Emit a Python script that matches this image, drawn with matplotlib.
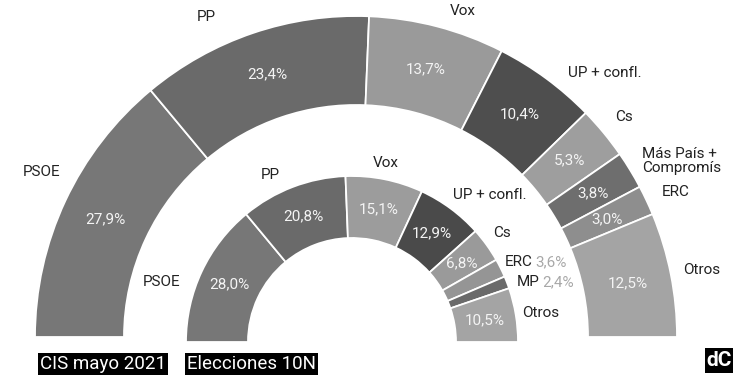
import numpy as np
import matplotlib
matplotlib.use('Agg')
import matplotlib.pyplot as plt
from matplotlib.patches import Wedge, Rectangle

plt.rcParams['font.family'] = ['Roboto', 'DejaVu Sans']

# CIS mayo 2021 (outer ring)
outer_parties = ['PSOE', 'PP', 'Vox', 'UP + confl.', 'Cs', 'Más País +\nCompromís', 'ERC', 'Otros']
outer_values = [27.9, 23.4, 13.7, 10.4, 5.3, 3.8, 3.0, 12.5]
outer_colors = ['#777777', '#6a6a6a', '#9a9a9a', '#4e4e4e', '#9e9e9e', '#6e6e6e', '#8e8e8e', '#a4a4a4']

# Elecciones 10N (inner ring)
inner_parties = ['PSOE', 'PP', 'Vox', 'UP + confl.', 'Cs', 'ERC', 'MP', 'Otros']
inner_values = [28.0, 20.8, 15.1, 12.9, 6.8, 3.6, 2.4, 10.5]
inner_colors = ['#777777', '#6a6a6a', '#9c9c9c', '#4a4a4a', '#9a9a9a', '#959595', '#6a6a6a', '#a4a4a4']

# party name positions (pixels from top-left) and alignment
outer_name_pos = [(42, 172, 'center'), (206, 17, 'center'), (463, 11, 'center'),
                  (568, 73, 'left'), (615, 117, 'left'), (642, 161, 'left'),
                  (662, 192, 'left'), (683, 270, 'left')]
inner_name_pos = [(162, 282, 'center'), (270, 175, 'center'), (386, 163, 'center'),
                  (453, 195, 'left'), (493, 233, 'left'), (505, 262, 'left'),
                  (517, 282, 'left'), (522, 313, 'left')]
# inner slices too thin for an inside label get the value next to the name
inner_value_outside = [False, False, False, False, False, True, True, False]

H = 375
FS = 11


def fmt(v):
    return f'{v:.1f}%'.replace('.', ',')


def draw_ring(ax, values, colors, cx, cy, r_out, r_in):
    total = sum(values)
    start = 180.0
    mids = []
    for v, c in zip(values, colors):
        span = v / total * 180.0
        ax.add_patch(Wedge((cx, H - cy), r_out, start - span, start, width=r_out - r_in,
                           facecolor=c, edgecolor='white', linewidth=1.3))
        mids.append(start - span / 2)
        start -= span
    return mids


def put_values(ax, values, mids, cx, cy, r, skip=None):
    for i, (v, a) in enumerate(zip(values, mids)):
        if skip and skip[i]:
            continue
        x = cx + r * np.cos(np.radians(a))
        y = H - cy + r * np.sin(np.radians(a))
        ax.text(x, y, fmt(v), color='#f4f4f4', fontsize=FS, ha='center', va='center')


fig = plt.figure(figsize=(7.5, 3.75), dpi=100)
ax = fig.add_axes([0, 0, 1, 1])
ax.set_xlim(0, 750)
ax.set_ylim(0, H)
ax.axis('off')

# outer ring
o_mid = draw_ring(ax, outer_values, outer_colors, 356, 337, 321, 232)
put_values(ax, outer_values, o_mid, 356, 337, 277)
for name, (x, y, ha) in zip(outer_parties, outer_name_pos):
    ax.text(x, H - y, name, fontsize=FS, ha=ha, va='center', color='#222222', linespacing=1.0)

# inner ring
i_mid = draw_ring(ax, inner_values, inner_colors, 352, 342, 166, 104)
put_values(ax, inner_values, i_mid, 352, 342, 135, skip=inner_value_outside)
for name, v, out, (x, y, ha) in zip(inner_parties, inner_values, inner_value_outside, inner_name_pos):
    t = ax.text(x, H - y, name, fontsize=FS, ha=ha, va='center', color='#222222')
    if out:
        ax.annotate(fmt(v), xy=(1, 0), xycoords=t, xytext=(2, 0), textcoords='offset points',
                    ha='left', va='bottom', fontsize=FS, color='#a8a8a8')

# legend tags
for label, x in [('CIS mayo 2021', 40), ('Elecciones 10N', 187)]:
    ax.text(x, H - 364, label, fontsize=13.5, color='white', ha='left', va='center',
            bbox=dict(boxstyle='square,pad=0.1', facecolor='black', edgecolor='none'))

# logo
ax.add_patch(Rectangle((705, H - 373), 28, 25, facecolor='black', edgecolor='none'))
ax.text(719, H - 360, 'dC', fontsize=15, fontweight='bold', color='white', ha='center', va='center')

fig.savefig('out.png', dpi=100, facecolor='white')
